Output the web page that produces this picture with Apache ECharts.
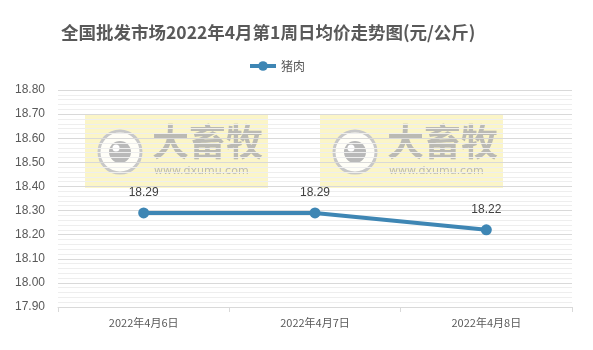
<!DOCTYPE html>
<html>
<head>
<meta charset="utf-8">
<script src="https://cdn.jsdelivr.net/npm/echarts@6/dist/echarts.min.js"></script>
<style>html,body{margin:0;padding:0;background:#fff}#c{width:593px;height:350px}</style>
</head>
<body>
<div id="c"></div>
<script>
var categories = ['2022年4月6日', '2022年4月7日', '2022年4月8日'];
var porkValues = [18.29, 18.29, 18.22];
var seriesName = '猪肉';
var titleText = '全国批发市场2022年4月第1周日均价走势图(元/公斤)';
var yMin = 17.9, yMax = 18.8, yStep = 0.1;

function watermark(x) {
  return {
    type: 'group', left: x, top: 115, z: 100, silent: true,
    children: [
      {type: 'rect', shape: {x: 0, y: 0, width: 183, height: 73}, style: {fill: 'rgba(245,228,110,0.38)'}},
      {type: 'circle', shape: {cx: 35, cy: 37, r: 21}, style: {fill: 'rgba(255,255,255,0.85)', stroke: '#c8c8c8', lineWidth: 3}},
      {type: 'circle', shape: {cx: 35, cy: 37, r: 11}, style: {fill: '#b9b9b9'}},
      {type: 'circle', shape: {cx: 31, cy: 33, r: 3.5}, style: {fill: '#ffffff'}},
      {type: 'text', left: 67, top: 8, style: {text: '大畜牧', font: 'bold 37px "Noto Sans CJK SC"', fill: 'rgba(175,175,175,0.85)'}},
      {type: 'text', left: 69, top: 51, style: {text: 'www.dxumu.com', font: '11px "DejaVu Sans"', fill: 'rgba(175,175,175,0.85)'}}
    ]
  };
}

var chart = echarts.init(document.getElementById('c'), null, {renderer: 'canvas'});
chart.setOption({
  backgroundColor: '#ffffff',
  animation: false,
  title: {
    text: titleText, left: 56, top: 19,
    textStyle: {fontFamily: '"Noto Sans CJK SC", sans-serif', fontSize: 17.5, fontWeight: 'bold', color: '#595959'}
  },
  legend: {
    data: [seriesName], left: 243, top: 55, itemWidth: 26, itemHeight: 12, itemGap: 10,
    lineStyle: {width: 4},
    textStyle: {fontFamily: '"Noto Sans CJK SC", sans-serif', fontSize: 12, color: '#595959'}
  },
  grid: {left: 58, right: 21, top: 90, bottom: 43},
  xAxis: {
    type: 'category', data: categories, boundaryGap: true,
    axisLine: {lineStyle: {color: '#d9d9d9'}},
    axisTick: {show: true, length: 5, lineStyle: {color: '#d9d9d9'}},
    axisLabel: {fontFamily: '"Noto Sans CJK SC", sans-serif', fontSize: 11, color: '#595959', margin: 10}
  },
  yAxis: {
    type: 'value', min: yMin, max: yMax, interval: yStep,
    axisLine: {show: false}, axisTick: {show: false},
    axisLabel: {formatter: function (v) { return v.toFixed(2); }, fontFamily: '"Liberation Sans", Arial, sans-serif', fontSize: 12, color: '#595959', margin: 13},
    splitLine: {lineStyle: {color: '#d9d9d9', width: 1}},
    minorTick: {show: false, splitNumber: 5},
    minorSplitLine: {show: true, lineStyle: {color: '#eeeeee', width: 1}}
  },
  series: [{
    name: seriesName, type: 'line', data: porkValues,
    symbol: 'circle', symbolSize: 11,
    lineStyle: {color: '#3e86b4', width: 4},
    itemStyle: {color: '#3e86b4'},
    label: {show: true, position: 'top', distance: 9, formatter: function (p) { return p.value.toFixed(2); },
      fontFamily: '"Liberation Sans", Arial, sans-serif', fontSize: 12, color: '#404040'}
  }],
  graphic: [watermark(85), watermark(320)]
});
</script>
</body>
</html>
